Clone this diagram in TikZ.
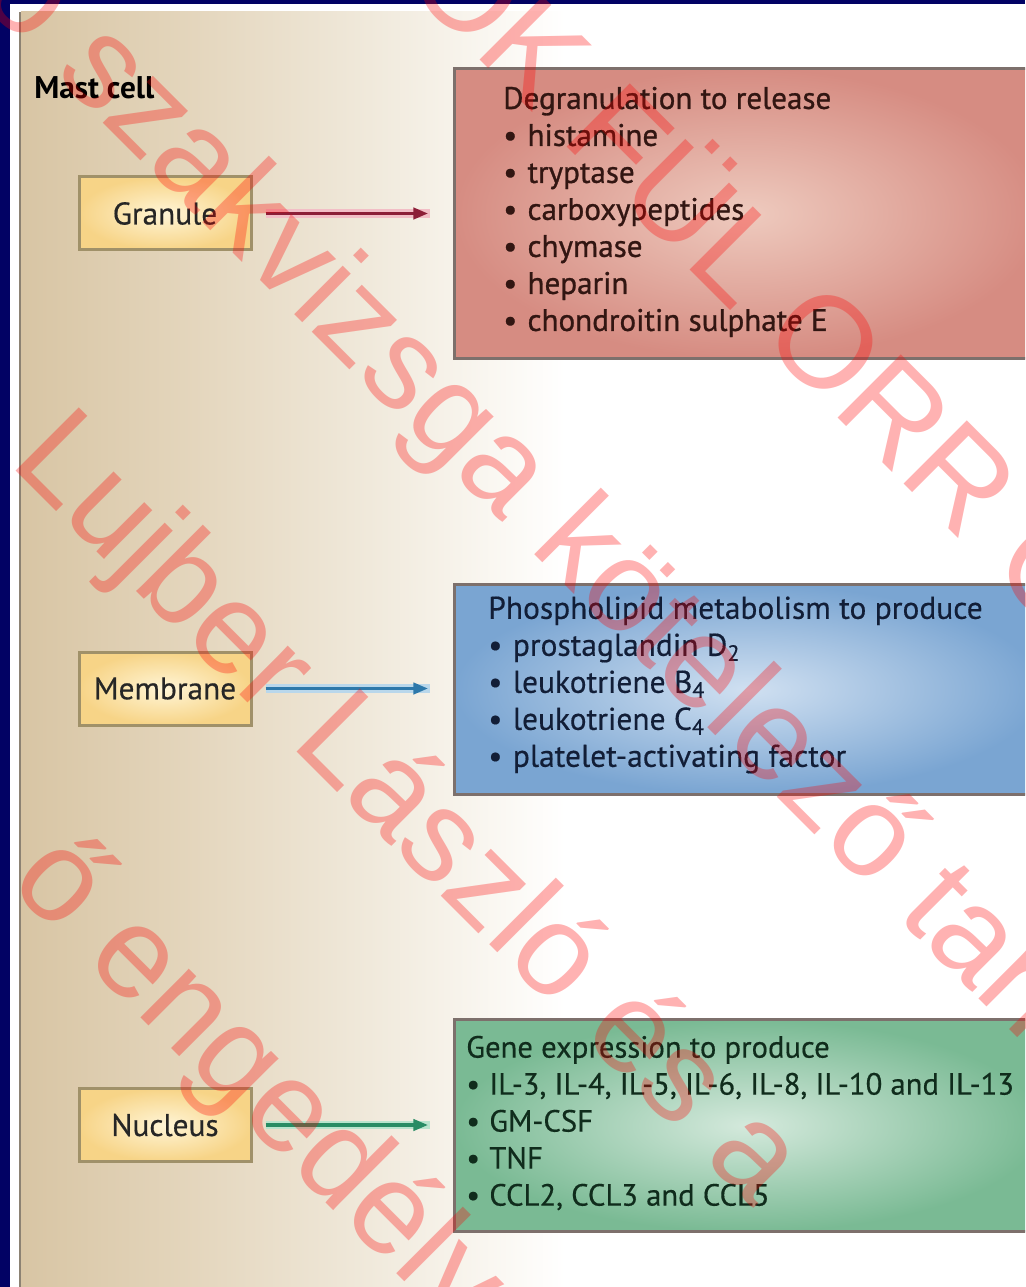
\documentclass[tikz,border=0pt]{standalone}
\usepackage{fontspec}
\setmainfont{PT Sans}
\newfontfamily\wmfont{Liberation Sans}
\usetikzlibrary{arrows.meta}
\definecolor{navy}{RGB}{2,2,100}
\definecolor{tanL}{RGB}{216,197,164}
\definecolor{tanA}{RGB}{228,214,189}
\definecolor{tanB}{RGB}{240,233,219}
\definecolor{tanC}{RGB}{252,250,246}
\definecolor{panelline}{RGB}{140,130,115}
\definecolor{yelIn}{RGB}{255,245,214}
\definecolor{yelOut}{RGB}{247,212,135}
\definecolor{yborder}{RGB}{160,145,105}
\definecolor{boxline}{RGB}{125,112,108}
\definecolor{redIn}{RGB}{238,202,190}
\definecolor{redOut}{RGB}{214,140,130}
\definecolor{blueIn}{RGB}{208,224,241}
\definecolor{blueOut}{RGB}{122,165,210}
\definecolor{greenIn}{RGB}{212,233,220}
\definecolor{greenOut}{RGB}{122,186,148}
\definecolor{redArrow}{RGB}{140,30,55}
\definecolor{redHalo}{RGB}{242,190,198}
\definecolor{blueArrow}{RGB}{45,120,170}
\definecolor{blueHalo}{RGB}{185,215,235}
\definecolor{greenArrow}{RGB}{40,140,100}
\definecolor{greenHalo}{RGB}{185,228,205}
\definecolor{redText}{RGB}{50,22,18}
\definecolor{blueText}{RGB}{18,30,55}
\definecolor{greenText}{RGB}{16,44,28}
\pgfdeclarehorizontalshading{tanfade}{100bp}{color(0bp)=(tanL); color(25bp)=(tanL); color(40bp)=(tanA); color(55bp)=(tanB); color(68bp)=(tanC); color(72bp)=(white); color(100bp)=(white)}
\begin{document}
\begin{tikzpicture}[x=0.75pt,y=-0.75pt,
  ybox/.style={draw=yborder, line width=2.25pt, inner color=yelIn, outer color=yelOut,
    minimum width=129pt, minimum height=54.75pt, inner sep=0pt,
    font=\addfontfeature{FakeBold=0.4}\fontsize{23.5}{27.75}\selectfont, text=black!85},
  cbox/.style={draw=boxline, line width=2.25pt, minimum width=440.25pt, inner sep=0pt, anchor=north west},
  btext/.style={anchor=west, align=left, inner sep=0pt},
  halo/.style={line width=6.5pt, shorten <=9.75pt, shorten >=17pt},
  arr/.style={line width=2.4pt, shorten <=9.75pt, shorten >=18.75pt, -{Triangle[length=11pt,width=8.5pt]}},
  wm/.style={font=\wmfont\fontsize{97.5}{100}\selectfont, text=red, text opacity=0.3,
    rotate=-45, inner sep=0pt, anchor=base west}
]
\useasboundingbox (0,0) rectangle (1025,1287);
\clip (0,0) rectangle (1025,1287);
% frame and page
\fill[navy] (0,0) rectangle (1025,1287);
\fill[white] (10,4) rectangle (1040,1300);
\shade[shading=tanfade] (21,12) rectangle (600,1300);
\draw[panelline, line width=2.2pt] (20,12) -- (20,1300);
% title
\node[anchor=west, inner sep=0pt, font=\bfseries\fontsize{23.5}{26}\selectfont] (title) at (34,88) {Mast cell};
% compartments
\node[ybox] (granule) at (165,213.5) {Granule};
\node[ybox] (membrane) at (165,688.5) {Membrane};
\node[ybox] (nucleus) at (165,1125) {Nucleus};
% product boxes
\node[cbox, inner color=redIn, outer color=redOut, minimum height=217.5pt] (release) at (453,67) {};
\node[cbox, inner color=blueIn, outer color=blueOut, minimum height=157.5pt] (lipid) at (453,583) {};
\node[cbox, inner color=greenIn, outer color=greenOut, minimum height=159pt] (gene) at (453,1018) {};
% texts
\node[btext, text=redText, font=\addfontfeature{FakeBold=0.9}\fontsize{23.3}{27.75}\selectfont] (releasetext) at (503,212) {Degranulation to release\\
\textbullet\hspace{0.33em}histamine\\
\textbullet\hspace{0.33em}tryptase\\
\textbullet\hspace{0.33em}carboxypeptides\\
\textbullet\hspace{0.33em}chymase\\
\textbullet\hspace{0.33em}heparin\\
\textbullet\hspace{0.33em}chondroitin sulphate E};
\node[btext, text=blueText, font=\addfontfeature{FakeBold=0.4}\fontsize{23.6}{27.75}\selectfont] (lipidtext) at (488,685) {Phospholipid metabolism to produce\\
\textbullet\hspace{0.33em}prostaglandin D\textsubscript{2}\\
\textbullet\hspace{0.33em}leukotriene B\textsubscript{4}\\
\textbullet\hspace{0.33em}leukotriene C\textsubscript{4}\\
\textbullet\hspace{0.33em}platelet-activating factor};
\node[btext, text=greenText, font=\addfontfeature{FakeBold=0.4}\fontsize{23}{27.75}\selectfont] (genetext) at (466,1123) {Gene expression to produce\\
\textbullet\hspace{0.3em}IL-3, IL-4, IL-5, IL-6, IL-8, IL-10 and IL-13\\
\textbullet\hspace{0.3em}GM-CSF\\
\textbullet\hspace{0.3em}TNF\\
\textbullet\hspace{0.3em}CCL2, CCL3 and CCL5};
% arrows
\draw[halo, redHalo] (granule) -- (granule -| release.west);
\draw[arr, redArrow] (granule) -- (granule -| release.west);
\draw[halo, blueHalo] (membrane) -- (membrane -| lipid.west);
\draw[arr, blueArrow] (membrane) -- (membrane -| lipid.west);
\draw[halo, greenHalo] (nucleus) -- (nucleus -| gene.west);
\draw[arr, greenArrow] (nucleus) -- (nucleus -| gene.west);
% watermark
\node[wm] (wm1) at (-23.7,-3.7) {o szakvizsga kötelező tan};
\node[wm] (wm2) at (8,463) {Lujber László és a};
\node[wm] (wm3) at (401,-19) {OK FÜL ORR G};
\node[wm] (wm4) at (7,884) {ő engedélye};
\end{tikzpicture}
\end{document}
